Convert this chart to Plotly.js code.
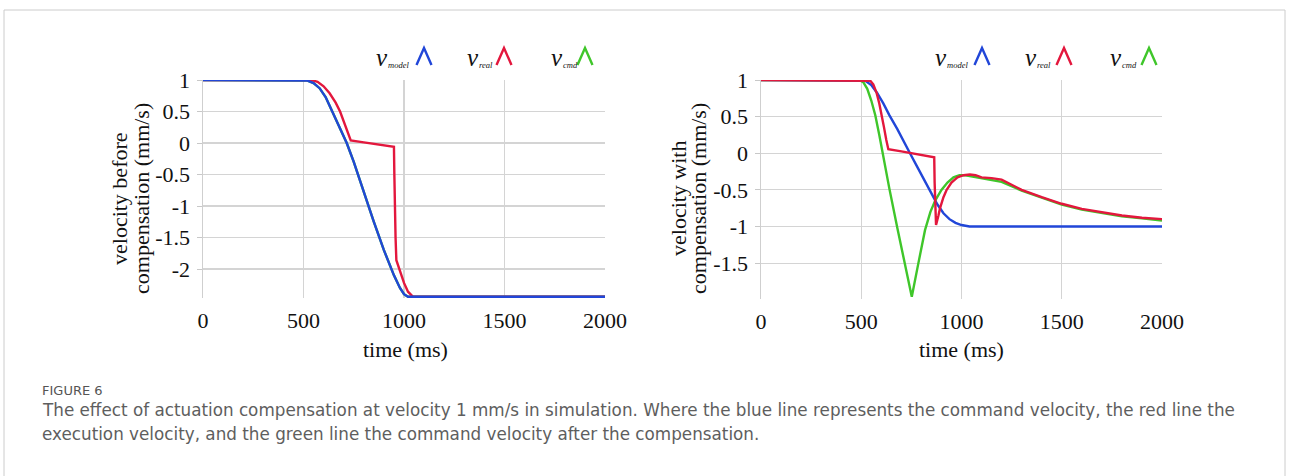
<!DOCTYPE html>
<html>
<head>
<meta charset="utf-8">
<script src="https://cdn.plot.ly/plotly-3.0.1.min.js"></script>
<style>
html,body{margin:0;padding:0;background:#fff;}
#chart{width:1290px;height:476px;}
</style>
</head>
<body>
<div id="chart"></div>
<script>
// ---------- data ----------
// Left panel: velocity before compensation
const leftModelT = [0, 500, 520, 550, 580, 610, 640, 670, 700, 715, 750, 800, 850, 900, 950, 980, 1000, 1020, 2000];
const leftModelV = [1, 1, 0.99, 0.95, 0.87, 0.73, 0.52, 0.32, 0.1, 0.0, -0.3, -0.78, -1.25, -1.7, -2.1, -2.3, -2.4, -2.44, -2.44];
const leftRealT = [0, 540, 570, 600, 630, 660, 682, 710, 735, 800, 900, 950, 952, 954, 956, 958, 962, 980, 1000, 1020, 1045, 2000];
const leftRealV = [1, 1, 0.97, 0.9, 0.79, 0.64, 0.5, 0.26, 0.04, 0.01, -0.03, -0.06, -0.5, -1.05, -1.1, -1.5, -1.86, -2.05, -2.22, -2.36, -2.44, -2.44];
const leftCmdT = leftModelT;   // command equals model before compensation (hidden under blue)
const leftCmdV = leftModelV;

// Right panel: velocity with compensation
const rightModelT = [0, 500, 520, 550, 580, 610, 640, 680, 720, 743, 780, 820, 850, 880, 910, 940, 970, 1000, 1040, 2000];
const rightModelV = [1, 1, 0.99, 0.93, 0.82, 0.68, 0.52, 0.33, 0.11, 0.0, -0.19, -0.4, -0.56, -0.7, -0.82, -0.9, -0.95, -0.98, -1.0, -1.0];
const rightRealT = [0, 530, 545, 560, 577, 590, 600, 613, 625, 635, 700, 800, 864, 866, 869, 873, 885, 893, 910, 926, 950, 980, 1010, 1042, 1070, 1100, 1150, 1200, 1250, 1300, 1400, 1500, 1600, 1700, 1800, 1900, 2000];
const rightRealV = [1, 1, 0.99, 0.94, 0.82, 0.68, 0.56, 0.36, 0.18, 0.055, 0.025, -0.02, -0.055, -0.4, -0.75, -0.98, -0.85, -0.75, -0.6, -0.5, -0.4, -0.33, -0.3, -0.29, -0.3, -0.33, -0.34, -0.36, -0.43, -0.5, -0.6, -0.69, -0.76, -0.81, -0.85, -0.88, -0.9];
const rightCmdT = [0, 490, 510, 530, 550, 570, 590, 605, 640, 680, 720, 752, 785, 818, 845, 870, 900, 930, 960, 990, 1020, 1040, 1100, 1150, 1200, 1300, 1400, 1500, 1600, 1700, 1800, 1900, 2000];
const rightCmdV = [1, 1, 0.97, 0.88, 0.72, 0.52, 0.25, 0.02, -0.48, -1.02, -1.52, -1.96, -1.5, -1.05, -0.8, -0.64, -0.5, -0.4, -0.33, -0.3, -0.3, -0.31, -0.34, -0.36, -0.39, -0.51, -0.61, -0.7, -0.77, -0.82, -0.86, -0.89, -0.92];

const xTickVals = [0, 500, 1000, 1500, 2000];
const xTickText = ['0', '500', '1000', '1500', '2000'];
const leftYTickVals = [1, 0.5, 0, -0.5, -1, -1.5, -2];
const leftYTickText = ['1', '0.5', '0', '-0.5', '-1', '-1.5', '-2'];
const rightYTickVals = [1, 0.5, 0, -0.5, -1, -1.5];
const rightYTickText = ['1', '0.5', '0', '-0.5', '-1', '-1.5'];

const seriesNames = ['model', 'real', 'cmd'];
const xTitle = 'time (ms)';
const leftYTitle = ['velocity before', 'compensation (mm/s)'];
const rightYTitle = ['velocity with', 'compensation (mm/s)'];
const figLabel = 'FIGURE 6';
const captionLine1 = 'The effect of actuation compensation at velocity 1 mm/s in simulation. Where the blue line represents the command velocity, the red line the';
const captionLine2 = 'execution velocity, and the green line the command velocity after the compensation.';

// ---------- styling ----------
const W = 1290, H = 476;
const X = p => p / W;
const Y = p => 1 - p / H;
const BLUE = '#2146d8', RED = '#e3173d', GREEN = '#3fc62a';
const colors = [BLUE, RED, GREEN];
const serif = 'Liberation Serif';
const sans = 'DejaVu Sans';
const LW = 2.4;

function tr(x, y, c, xa, ya) {
  return {x: x, y: y, type: 'scatter', mode: 'lines', line: {color: c, width: LW, shape: 'linear'},
          xaxis: xa, yaxis: ya, showlegend: false, hoverinfo: 'skip'};
}
const data = [
  tr(leftCmdT, leftCmdV, GREEN, 'x', 'y'),
  tr(leftRealT, leftRealV, RED, 'x', 'y'),
  tr(leftModelT, leftModelV, BLUE, 'x', 'y'),
  tr(rightModelT, rightModelV, BLUE, 'x2', 'y2'),
  tr(rightCmdT, rightCmdV, GREEN, 'x2', 'y2'),
  tr(rightRealT, rightRealV, RED, 'x2', 'y2')
];

function xax(dom) {
  return {domain: dom, range: [0, 2000], tickvals: xTickVals, ticktext: xTickText,
          showgrid: true, gridcolor: '#d4d4d4', gridwidth: 1.2, zeroline: false, showline: false,
          ticks: '', tickfont: {family: serif, size: 22, color: '#111'}, ticklabelstandoff: 7,
          fixedrange: true};
}
function yax(dom, rng, tv, tt, anchor) {
  return {domain: dom, range: rng, tickvals: tv, ticktext: tt, anchor: anchor,
          showgrid: true, gridcolor: '#d4d4d4', gridwidth: 1.2, zeroline: false,
          showline: true, linecolor: '#cfcfcf', linewidth: 1.5,
          ticks: 'outside', ticklen: 5, tickcolor: '#c8c8c8', tickwidth: 1,
          tickfont: {family: serif, size: 22, color: '#111'}, ticklabelstandoff: 2,
          fixedrange: true};
}

const annotations = [];
const shapes = [];

// axis titles
function addXTitle(cx) {
  annotations.push({text: xTitle, xref: 'paper', yref: 'paper', x: X(cx), y: Y(349), showarrow: false,
    xanchor: 'center', yanchor: 'middle', font: {family: serif, size: 22, color: '#111'}});
}
function addYTitle(cx1, cx2, lines) {
  [cx1, cx2].forEach((cx, i) => {
    annotations.push({text: lines[i], xref: 'paper', yref: 'paper', x: X(cx), y: Y(199), showarrow: false,
      textangle: -90, xanchor: 'center', yanchor: 'middle', font: {family: serif, size: 22, color: '#111'}});
  });
}
addXTitle(405); addXTitle(962);
addYTitle(119, 141, leftYTitle); addYTitle(678, 698, rightYTitle);

// custom legend
function addLegend(offsets) {
  seriesNames.forEach((nm, i) => {
    const vx = offsets[i][0], cx = offsets[i][1];
    annotations.push({text: '<i>v</i>', xref: 'paper', yref: 'paper', x: X(vx), y: Y(57), showarrow: false,
      xanchor: 'center', yanchor: 'middle', font: {family: serif, size: 25, color: '#111'}});
    annotations.push({text: '<i>' + nm + '</i>', xref: 'paper', yref: 'paper', x: X(vx + 4), y: Y(65), showarrow: false,
      xanchor: 'left', yanchor: 'middle', font: {family: serif, size: 8.5, color: '#111'}});
    const p = 'M ' + X(cx - 7.5) + ' ' + Y(65) + ' L ' + X(cx) + ' ' + Y(48) + ' L ' + X(cx + 7.5) + ' ' + Y(65);
    shapes.push({type: 'path', xref: 'paper', yref: 'paper', path: p, line: {color: colors[i], width: 2.4}});
  });
}
addLegend([[382, 424], [473, 504], [557, 585]]);
addLegend([[941, 982], [1031, 1064], [1116, 1149]]);

// caption
annotations.push({text: figLabel, xref: 'paper', yref: 'paper', x: X(40), y: Y(390), showarrow: false,
  xanchor: 'left', yanchor: 'middle', font: {family: sans, size: 13, color: '#555'}});
annotations.push({text: captionLine1, xref: 'paper', yref: 'paper', x: X(40), y: Y(410), showarrow: false,
  xanchor: 'left', yanchor: 'middle', font: {family: sans, size: 16.8, color: '#5e5e5e'}});
annotations.push({text: captionLine2, xref: 'paper', yref: 'paper', x: X(40), y: Y(434), showarrow: false,
  xanchor: 'left', yanchor: 'middle', font: {family: sans, size: 16.8, color: '#5e5e5e'}});

// outer frame
shapes.push({type: 'rect', xref: 'paper', yref: 'paper', x0: X(4), x1: X(1285), y0: Y(490), y1: Y(10),
  line: {color: '#cccccc', width: 1}, fillcolor: 'rgba(0,0,0,0)', layer: 'below'});

const layout = {
  width: W, height: H,
  margin: {l: 0, r: 0, t: 0, b: 0},
  paper_bgcolor: '#fff', plot_bgcolor: '#fff',
  showlegend: false,
  xaxis: Object.assign(xax([X(203), X(605)]), {anchor: 'y'}),
  yaxis: yax([Y(298), Y(80)], [-2.46, 1.0], leftYTickVals, leftYTickText, 'x'),
  xaxis2: Object.assign(xax([X(761), X(1162)]), {anchor: 'y2'}),
  yaxis2: yax([Y(299), Y(80)], [-1.99, 1.0], rightYTickVals, rightYTickText, 'x2'),
  annotations: annotations,
  shapes: shapes
};

Plotly.newPlot('chart', data, layout, {displayModeBar: false, staticPlot: true});
</script>
</body>
</html>
